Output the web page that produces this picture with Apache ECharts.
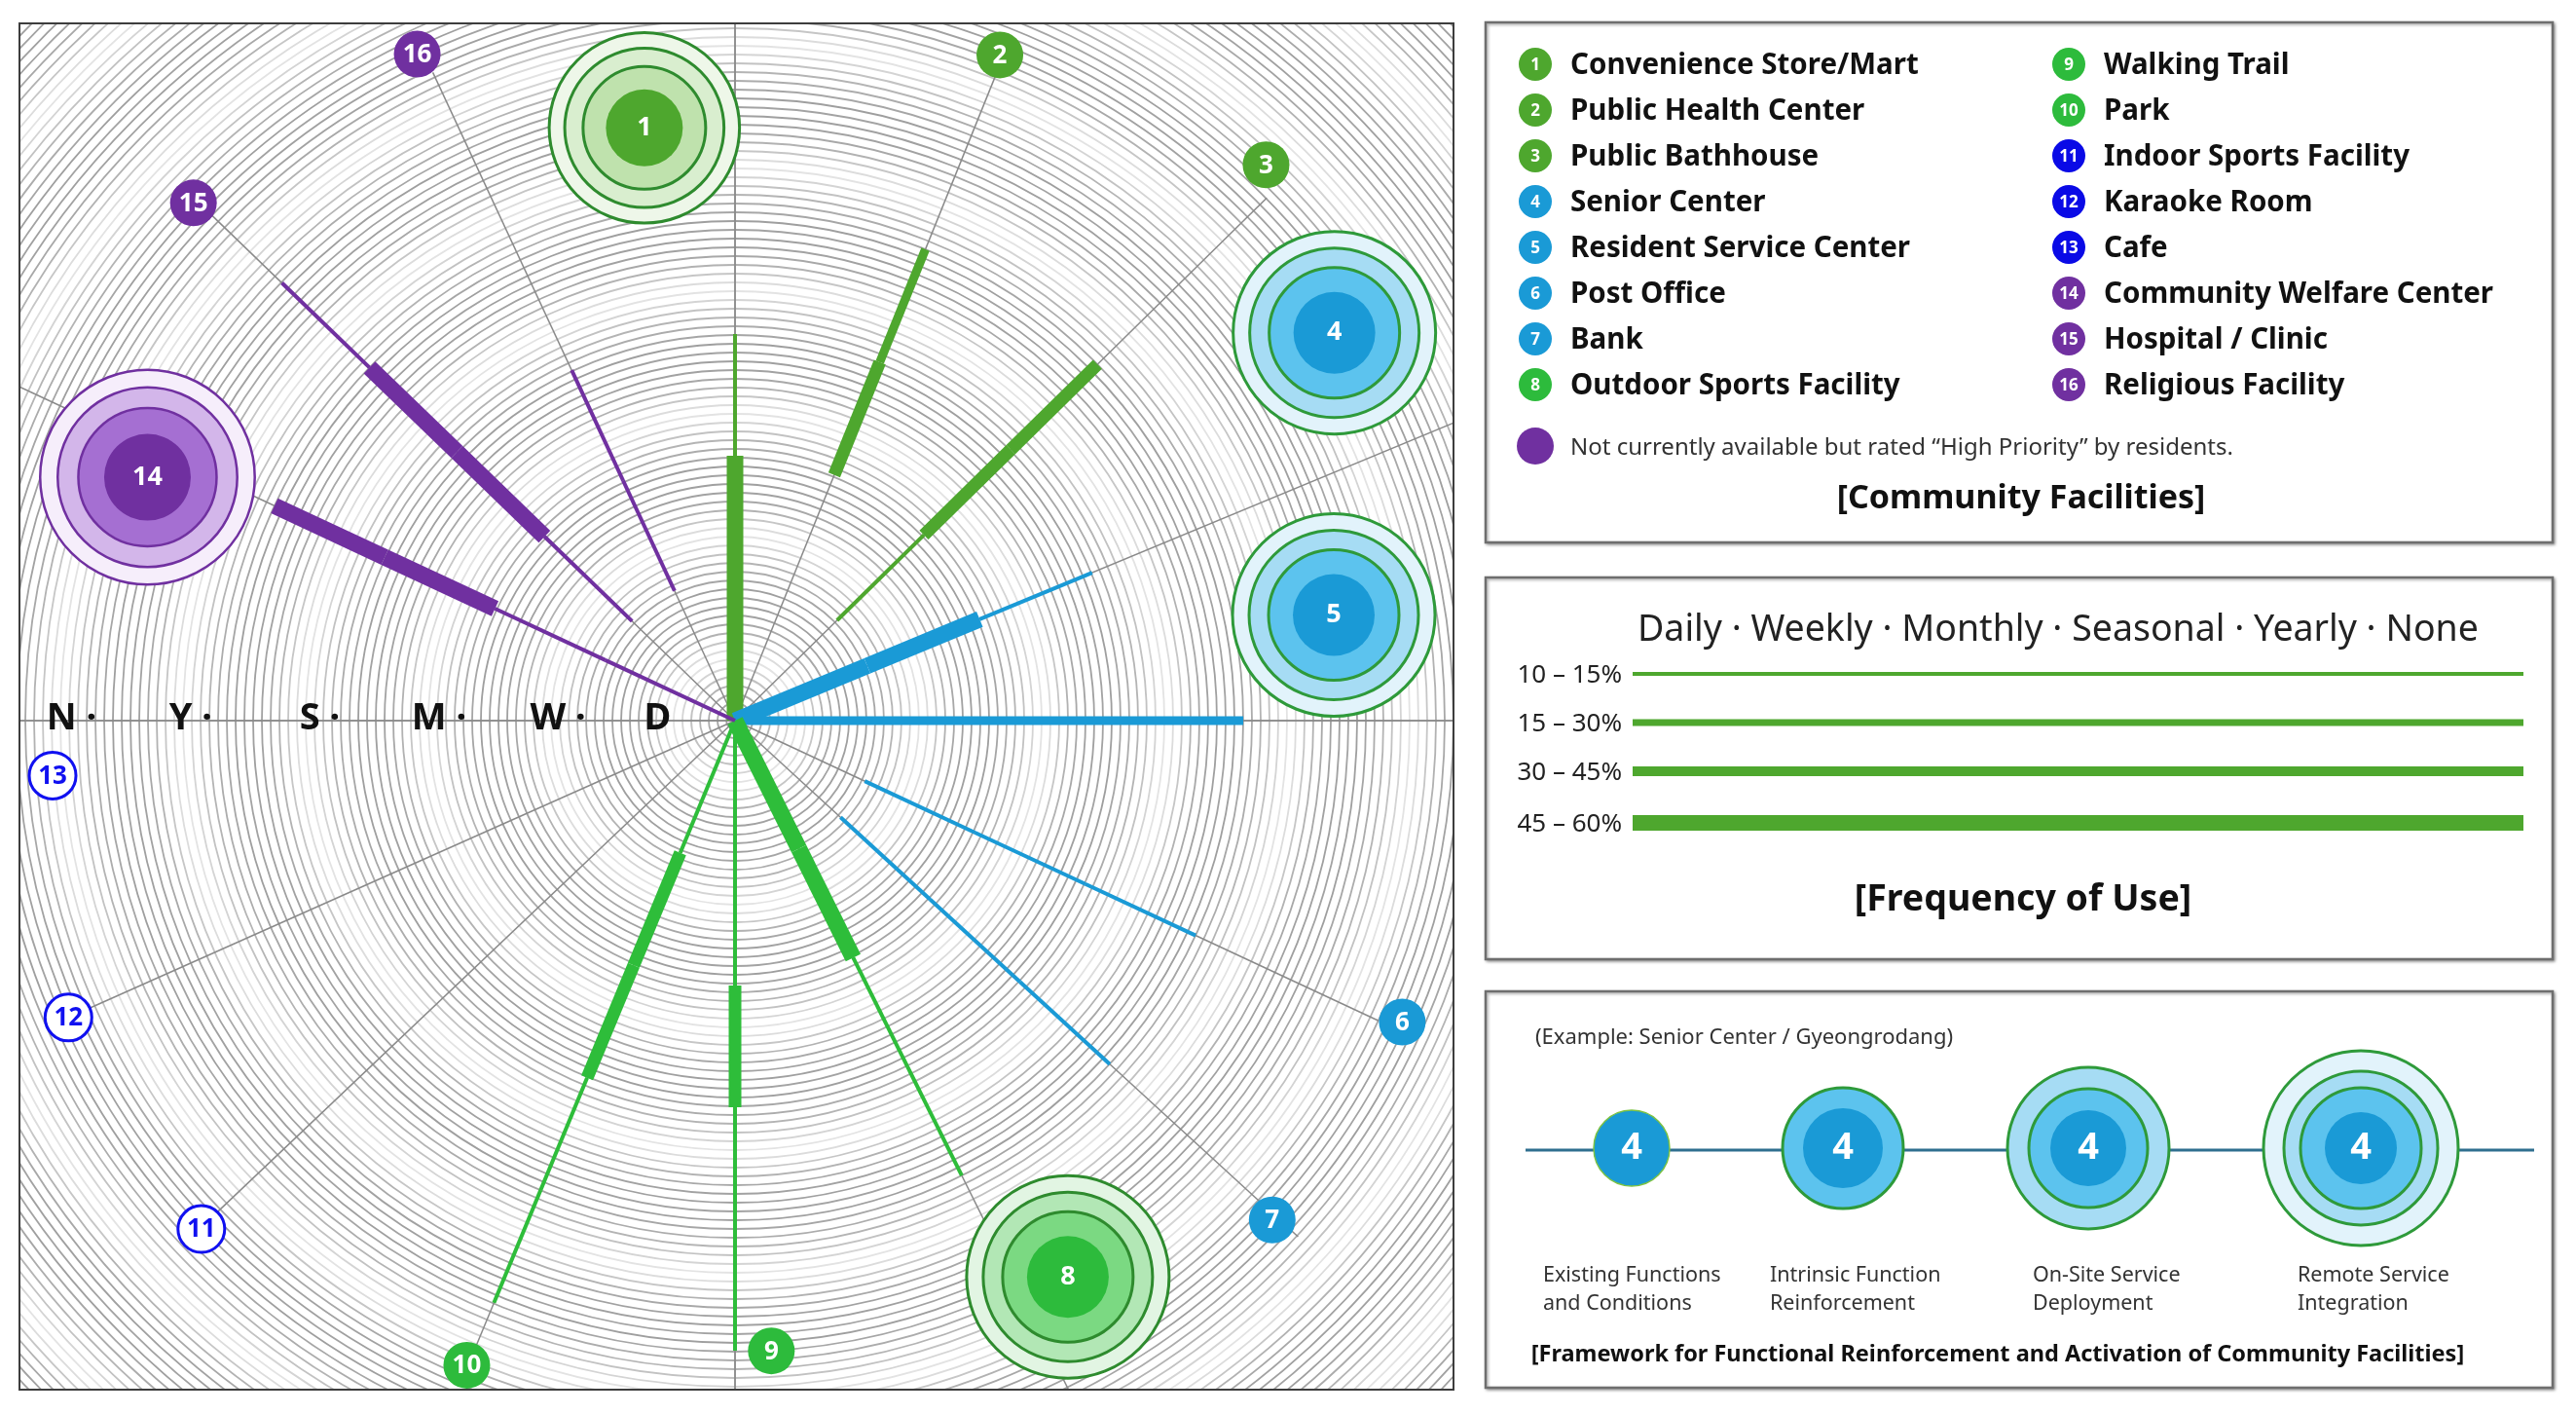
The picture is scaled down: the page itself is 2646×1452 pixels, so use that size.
<!DOCTYPE html>
<html><head><meta charset="utf-8">
<script src="https://cdn.jsdelivr.net/npm/echarts@6/dist/echarts.min.js"></script>
<style>html,body{margin:0;padding:0;background:#fff}#c{width:2646px;height:1452px}</style>
</head><body><div id="c"></div>
<script>
// ---------------- DATA ----------------
const facilities = ['Convenience Store/Mart','Public Health Center','Public Bathhouse','Senior Center',
  'Resident Service Center','Post Office','Bank','Outdoor Sports Facility','Walking Trail','Park',
  'Indoor Sports Facility','Karaoke Room','Cafe','Community Welfare Center','Hospital / Clinic','Religious Facility'];
const groupOf = [0,0,0,1,1,1,1,2,2,2,3,3,3,4,4,4];
const frequencyNames = ['Daily','Weekly','Monthly','Seasonal','Yearly','None'];
const axisLetters = ['D','W','M','S','Y','N'];
const shareBands = ['10 – 15%','15 – 30%','30 – 45%','45 – 60%'];
// share level of respondents per facility (0 = below 10 %, 1..4 = shareBands)
const daily    = [4,0,0,4,2,0,0,4,1,1,0,0,0,1,0,0];
const weekly   = [4,0,1,4,2,1,1,4,1,3,0,0,0,1,1,1];
const monthly  = [1,3,3,1,2,1,1,1,3,3,0,0,0,4,4,1];
const seasonal = [0,2,3,0,2,1,1,1,1,1,0,0,0,4,4,0];
const yearly   = [0,0,0,0,0,0,0,0,1,1,0,0,0,0,1,0];
const never    = [0,0,0,0,0,0,0,0,0,0,0,0,0,0,0,0];
// framework stage reached per facility (0 = not available)
const stage = [4,1,1,4,4,1,1,4,1,1,0,0,0,4,1,1];
const stageNames = ['Existing Functions\nand Conditions','Intrinsic Function\nReinforcement','On-Site Service\nDeployment','Remote Service\nIntegration'];
const exampleText = '(Example: Senior Center / Gyeongrodang)';
const noteText = 'Not currently available but rated \u201cHigh Priority\u201d by residents.';

// ---------------- LAYOUT / STYLE ----------------
const FONT = '"Noto Sans", "Open Sans", sans-serif';
const C = [755, 740];
const RMIN = -0.176, RMAX = 7.2, PX = 125;
const rayAngle = [0,22,45.5,67.5,90,115,132.5,153.5,180,202.5,226.5,246,270,295,314,335];
const markerPos = [[4.75,351.3],[5.71,21.7],[6.14,43.7],[5.69,57.1],[4.82,80],[5.84,114.3],[5.85,132.9],[5.15,149.1],
  [5.01,176.7],[5.56,202.6],[5.88,226.4],[5.82,246],[5.45,265.4],[5.05,292.5],[5.98,313.7],[5.89,334.5]];
const rayEnd = [7.2,5.55,5.95,7.2,7.2,5.66,6.1,7.2,7.2,5.4,5.7,5.64,7.2,7.2,5.8,5.7];
const labelR = [0.35,1.05,2.03,3.07,4.12,5.07];
const levelWidth = [0,4,9,13,17];
const freqLineWidth = [4,7,10,16];
const groupColor = ['#4ea72e','#1a9ad6','#2dbb3c','#0a0ae6','#7030a0'];
const spokeColor = ['#4ea72e','#1a9ad6','#2ebd3a','#0a0ae6','#7030a0'];
const palettes = [
  {bands:['#eef7e9','#d9eecf','#bfe2ad'], inner:'#4ea72e', ring:'#2e8b2e', w:3},
  {bands:['#e2f3fb','#a6dcf4','#5cc3ee'], inner:'#1a9ad6', ring:'#2e9a3a', w:3},
  {bands:['#e2f5e3','#b2e7b5','#7bd982'], inner:'#2dbb3c', ring:'#2e8b2e', w:3},
  {bands:['#e2f3fb','#a6dcf4','#5cc3ee'], inner:'#0a0ae6', ring:'#2e9a3a', w:3},
  {bands:['#f6eefb','#d3b6ea','#a56fd2'], inner:'#7030a0', ring:'#7030a0', w:2.5}
];
const ringColors = ['#a3a3a3','#9f9f9f','#a6a6a6','#acacac','#b4b4b4','#c2c2c2','#d4d4d4','#e3e3e3','#dcdcdc','#c6c6c6','#b2b2b2','#a8a8a8','#a2a2a2','#a0a0a0'];

function ringShapes(cx, cy, radii, pal, label, fontSize, z) {
  const out = [];
  const n = radii.length - 1;
  const bands = pal.bands.slice(3 - n);
  for (let k = 0; k < n; k++) {
    out.push({type:'circle', shape:{cx, cy, r:radii[k]}, style:{fill:bands[k], stroke:pal.ring, lineWidth:pal.w}, z});
  }
  out.push({type:'circle', shape:{cx, cy, r:radii[n]}, style:{fill:pal.inner, stroke: n === 0 ? '#7cc243' : null, lineWidth: n === 0 ? 1.5 : 0}, z});
  out.push({type:'text', style:{text:label, x:cx, y:cy, fill:'#fff', font:'bold ' + fontSize + 'px ' + FONT, align:'center', verticalAlign:'middle'}, z: z + 1});
  return out;
}

// ---------------- SERIES DATA ----------------
const levels = [daily, weekly, monthly, seasonal, yearly, never];
const spokeData = [];
facilities.forEach((f, i) => {
  levels.forEach((arr, b) => {
    if (arr[i] > 0) spokeData.push([b === 0 ? RMIN : b, rayAngle[i], b + 1, arr[i], groupOf[i]]);
  });
});
const rayData = facilities.map((f, i) => [RMIN, rayAngle[i], rayEnd[i]]);
const markerData = markerPos.map((p, i) => [p[0], p[1], i]);
const letterData = axisLetters.map((t, i) => [labelR[i], 270, i]);

const chart = echarts.init(document.getElementById('c'), null, {renderer:'canvas', width:2646, height:1452});

// ---------------- GRAPHIC (masks + side panels) ----------------
const G = [];
function T(text, x, y, size, o) {
  o = o || {};
  G.push({type:'text', silent:true, z:112, style:{text, x, y, fill:o.color || '#111',
    font:(o.weight || 'normal') + ' ' + size + 'px ' + FONT, align:o.align || 'left',
    verticalAlign:o.va || 'middle', lineHeight:o.lh}});
}
[[0,0,2646,24],[0,1427,2646,25],[0,0,20,1452],[1493,0,1153,1452]].forEach(r =>
  G.push({type:'rect', silent:true, z:100, shape:{x:r[0], y:r[1], width:r[2], height:r[3]}, style:{fill:'#fff'}}));
G.push({type:'rect', silent:true, z:101, shape:{x:20, y:24, width:1473, height:1403}, style:{fill:'transparent', stroke:'#3d3d3d', lineWidth:2}});
[[1526,23,1096,534],[1526,593,1096,392],[1526,1018,1096,407]].forEach(r =>
  G.push({type:'rect', silent:true, z:101, shape:{x:r[0], y:r[1], width:r[2], height:r[3]},
    style:{fill:'#fff', stroke:'#6e6e6e', lineWidth:2.5, shadowBlur:3, shadowOffsetX:1.5, shadowOffsetY:1.5, shadowColor:'rgba(0,0,0,0.35)'}}));

// legend of facilities
facilities.forEach((name, i) => {
  const col = i < 8 ? 0 : 1, row = i % 8;
  const mx = col ? 2125 : 1577, tx = col ? 2161 : 1613, y = 66 + row * 47;
  G.push({type:'circle', silent:true, z:111, shape:{cx:mx, cy:y, r:17}, style:{fill:groupColor[groupOf[i]]}});
  T(String(i + 1), mx, y + 1, 17, {color:'#fff', weight:'bold', align:'center'});
  T(name, tx, y + 2, 29.5, {weight:'bold'});
});
G.push({type:'circle', silent:true, z:111, shape:{cx:1577, cy:458, r:19}, style:{fill:'#7030a0'}});
T(noteText, 1613, 460, 24, {color:'#333'});
T('[Community Facilities]', 2076, 512, 34, {weight:'bold', align:'center'});

// frequency legend
T(frequencyNames.join(' \u00b7 '), 1682, 647, 37.5, {color:'#222'});
shareBands.forEach((s, k) => {
  const y = [692, 742, 792, 845][k];
  T(s, 1666, y + 2, 26, {color:'#222', align:'right'});
  G.push({type:'line', silent:true, z:111, shape:{x1:1677, y1:y, x2:2592, y2:y}, style:{stroke:'#4ea72e', lineWidth:freqLineWidth[k]}});
});
T('[Frequency of Use]', 2078, 924, 37.5, {weight:'bold', align:'center'});

// framework
T(exampleText, 1577, 1066, 22, {color:'#333'});
G.push({type:'line', silent:true, z:110, shape:{x1:1567, y1:1181, x2:2603, y2:1181}, style:{stroke:'#2f6f8f', lineWidth:3}});
const fwRadii = [[39],[62,41],[83,61,39],[100,79,62,37]];
const fwX = [1676, 1893, 2145, 2425];
const fwLabelX = [1585, 1818, 2088, 2360];
stageNames.forEach((s, k) => {
  ringShapes(fwX[k], 1179, fwRadii[k], palettes[1], '4', 38, 111).forEach(e => { e.silent = true; G.push(e); });
  T(s, fwLabelX[k], 1324, 21.5, {color:'#333', lh:29});
});
T('[Framework for Functional Reinforcement and Activation of Community Facilities]', 2052, 1391, 23.5, {weight:'bold', align:'center'});

// ---------------- OPTION ----------------
const option = {
  animation:false,
  backgroundColor:'#fff',
  polar:[{center:C, radius:(RMAX - RMIN) * PX}, {center:C, radius:1170}],
  angleAxis:[
    {polarIndex:0, type:'value', min:0, max:360, startAngle:90, clockwise:true, show:false},
    {polarIndex:1, type:'value', min:0, max:360, interval:90, startAngle:90, clockwise:true,
     axisLine:{show:false}, axisTick:{show:false}, axisLabel:{show:false},
     splitLine:{show:true, lineStyle:{color:'#8f8f8f', width:1.5}}}
  ],
  radiusAxis:[
    {polarIndex:0, type:'value', min:RMIN, max:RMAX, show:false},
    {polarIndex:1, type:'value', min:0, max:1170, interval:9,
     axisLine:{show:false}, axisTick:{show:false}, axisLabel:{show:false},
     splitLine:{show:true, lineStyle:{color:ringColors, width:1.8}}}
  ],
  series:[
    {type:'custom', coordinateSystem:'polar', polarIndex:0, z:2, silent:true, data:rayData,
     encode:{radius:0, angle:1},
     renderItem(params, api) {
       const a = api.value(1);
       const p0 = api.coord([api.value(0), a]), p1 = api.coord([api.value(2), a]);
       return {type:'line', shape:{x1:p0[0], y1:p0[1], x2:p1[0], y2:p1[1]}, style:{stroke:'#8a8a8a', lineWidth:1.5}};
     }},
    {type:'custom', coordinateSystem:'polar', polarIndex:0, z:3, silent:true, data:spokeData,
     encode:{radius:0, angle:1},
     renderItem(params, api) {
       const a = api.value(1);
       const p0 = api.coord([api.value(0), a]), p1 = api.coord([api.value(2), a]);
       return {type:'line', shape:{x1:p0[0], y1:p0[1], x2:p1[0], y2:p1[1]},
         style:{stroke:spokeColor[api.value(4)], lineWidth:levelWidth[api.value(3)], lineCap:'butt'}};
     }},
    {type:'custom', coordinateSystem:'polar', polarIndex:0, z:4, silent:true, data:letterData,
     encode:{radius:0, angle:1},
     renderItem(params, api) {
       const i = api.value(2);
       const p = api.coord([api.value(0), api.value(1)]);
       return {type:'text', style:{text: i === 0 ? axisLetters[i] : axisLetters[i] + ' \u00b7', x:p[0], y:p[1] - 2,
         fill:'#111', font:'bold 38px ' + FONT, align:'right', verticalAlign:'middle'}};
     }},
    {type:'custom', coordinateSystem:'polar', polarIndex:0, z:5, silent:true, data:markerData,
     encode:{radius:0, angle:1},
     renderItem(params, api) {
       const i = api.value(2);
       const p = api.coord([api.value(0), api.value(1)]);
       const g = groupOf[i];
       let children;
       if (stage[i] >= 2) {
         const s = i === 13 ? 1.06 : (i === 0 ? 0.94 : 1);
         children = ringShapes(p[0], p[1], [104*s, 87*s, 67*s, 42*s], palettes[g], String(i + 1), 27, 0);
       } else if (stage[i] === 1) {
         children = [{type:'circle', shape:{cx:p[0], cy:p[1], r:24}, style:{fill:groupColor[g]}},
           {type:'text', style:{text:String(i + 1), x:p[0], y:p[1] + 1, fill:'#fff', font:'bold 26px ' + FONT, align:'center', verticalAlign:'middle'}}];
       } else {
         children = [{type:'circle', shape:{cx:p[0], cy:p[1], r:24}, style:{fill:'#fff', stroke:'#1010f0', lineWidth:3}},
           {type:'text', style:{text:String(i + 1), x:p[0], y:p[1] + 1, fill:'#1010f0', font:'bold 26px ' + FONT, align:'center', verticalAlign:'middle'}}];
       }
       children.forEach(c => { delete c.z; });
       return {type:'group', children};
     }}
  ],
  graphic:{elements:G}
};
chart.setOption(option);
</script></body></html>
